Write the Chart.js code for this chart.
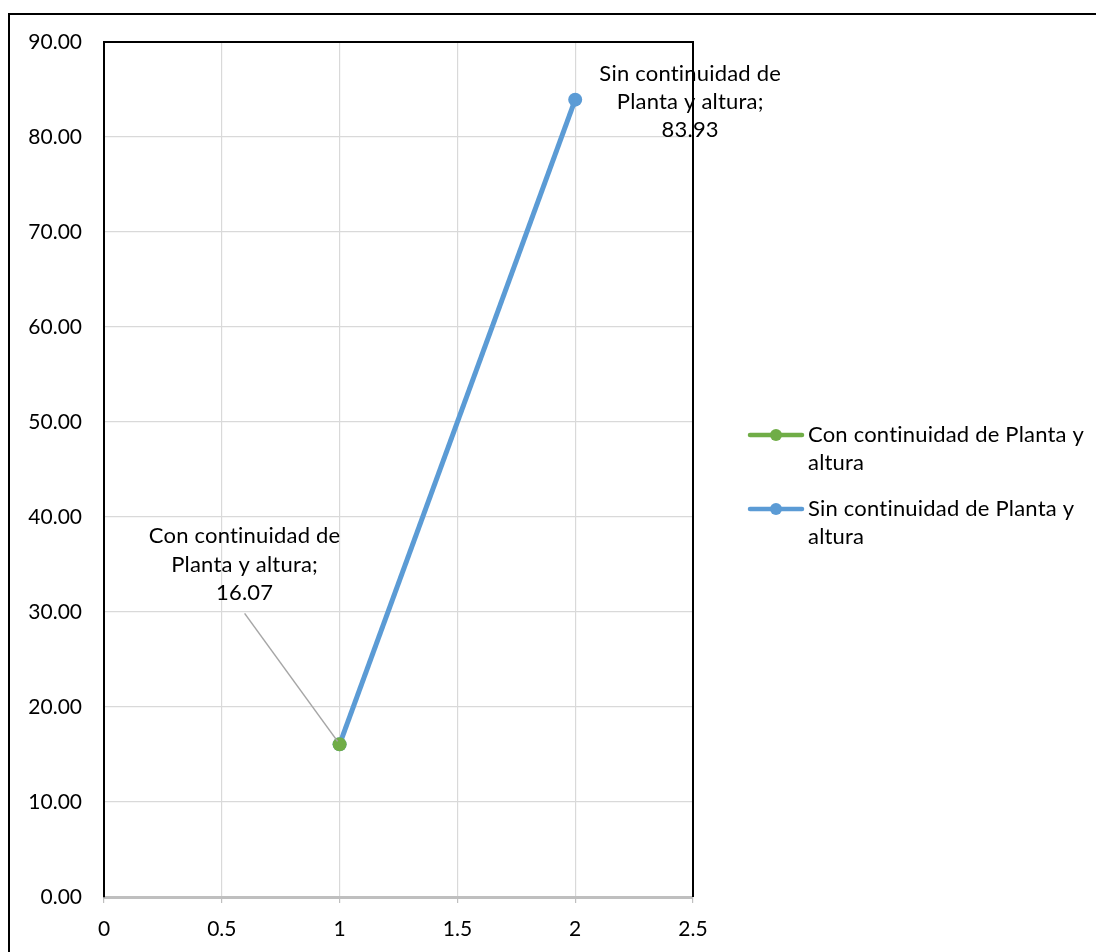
<!DOCTYPE html>
<html>
<head>
<meta charset="utf-8">
<script src="https://cdn.jsdelivr.net/npm/chart.js@4.4.1/dist/chart.umd.min.js"></script>
<style>
  html, body { margin: 0; padding: 0; background: #ffffff; }
  #wrap { width: 1096px; height: 952px; position: relative; }
</style>
</head>
<body>
<div id="wrap"><canvas id="c" width="1096" height="952"></canvas></div>
<script>
// Series names and values
const seriesNames = ['Con continuidad de Planta y altura', 'Sin continuidad de Planta y altura'];
const conX = [1];
const conY = [16.07];
const sinX = [1, 2];
const sinY = [16.07, 83.93];
const xTicks = [0, 0.5, 1, 1.5, 2, 2.5];
const yTicks = [0, 10, 20, 30, 40, 50, 60, 70, 80, 90];

const GREEN = '#70AD47';
const BLUE = '#5B9BD5';
const FONT = 'Lato, "Open Sans", sans-serif';

const toPoints = (xs, ys) => xs.map((x, i) => ({ x: x, y: ys[i] }));

// Point labels, wrapped over three lines: "name; value"
const labelLines = {
  0: ['Con continuidad de', 'Planta y altura;', conY[0].toFixed(2)],
  1: ['Sin continuidad de', 'Planta y altura;', sinY[1].toFixed(2)]
};

const decor = {
  id: 'decor',
  beforeDraw(chart) {
    const ctx = chart.ctx;
    ctx.save();
    ctx.fillStyle = '#ffffff';
    ctx.fillRect(0, 0, chart.width, chart.height);
    // outer frame
    ctx.strokeStyle = '#000000';
    ctx.lineWidth = 2;
    ctx.beginPath();
    ctx.moveTo(9, chart.height + 2);
    ctx.lineTo(9, 14);
    ctx.lineTo(chart.width + 2, 14);
    ctx.stroke();
    ctx.restore();
  },
  afterDatasetsDraw(chart) {
    const ctx = chart.ctx;
    const xs = chart.scales.x, ys = chart.scales.y;
    const a = chart.chartArea;
    ctx.save();
    ctx.font = '22px ' + FONT;
    ctx.letterSpacing = '0.2px';
    ctx.fillStyle = '#000000';
    ctx.textAlign = 'center';
    ctx.textBaseline = 'middle';

    // label for the green point with a leader line
    const gx = xs.getPixelForValue(conX[0]);
    const gy = ys.getPixelForValue(conY[0]);
    const gcx = gx - 95, gcy = gy - 208;
    labelLines[0].forEach((t, i) => ctx.fillText(t, gcx, gcy + i * 28.5));
    ctx.strokeStyle = '#a6a6a6';
    ctx.lineWidth = 1.5;
    ctx.beginPath();
    ctx.moveTo(gcx, gcy + 77);
    ctx.lineTo(gx - 2, gy - 3);
    ctx.stroke();

    // label for the blue point
    const bx = xs.getPixelForValue(sinX[1]);
    const by = ys.getPixelForValue(sinY[1]);
    const bcx = bx + 115, bcy = by - 26;
    labelLines[1].forEach((t, i) => ctx.fillText(t, bcx, bcy + i * 28));

    // plot frame: top and right edges
    ctx.strokeStyle = '#000000';
    ctx.lineWidth = 2;
    ctx.beginPath();
    ctx.moveTo(a.left, a.top);
    ctx.lineTo(a.right, a.top);
    ctx.lineTo(a.right, a.bottom);
    ctx.stroke();

    // legend
    const items = [
      { color: GREEN, lines: ['Con continuidad de Planta y', 'altura'], y: 435 },
      { color: BLUE, lines: ['Sin continuidad de Planta y', 'altura'], y: 509 }
    ];
    ctx.textAlign = 'left';
    items.forEach(it => {
      ctx.strokeStyle = it.color;
      ctx.lineWidth = 4.5;
      ctx.lineCap = 'round';
      ctx.beginPath();
      ctx.moveTo(750, it.y);
      ctx.lineTo(802, it.y);
      ctx.stroke();
      ctx.fillStyle = it.color;
      ctx.beginPath();
      ctx.arc(776, it.y, 6, 0, Math.PI * 2);
      ctx.fill();
      ctx.fillStyle = '#000000';
      it.lines.forEach((t, i) => ctx.fillText(t, 808, it.y + i * 28));
    });
    ctx.restore();
  }
};

new Chart(document.getElementById('c'), {
  type: 'scatter',
  data: {
    datasets: [
      {
        label: seriesNames[0],
        data: toPoints(conX, conY),
        showLine: false,
        backgroundColor: GREEN,
        borderColor: GREEN,
        pointRadius: 7,
        pointBorderWidth: 0,
        order: 0
      },
      {
        label: seriesNames[1],
        data: toPoints(sinX, sinY),
        showLine: true,
        borderColor: BLUE,
        backgroundColor: BLUE,
        borderWidth: 5,
        pointRadius: 7,
        pointBorderWidth: 0,
        order: 1
      }
    ]
  },
  options: {
    responsive: false,
    animation: false,
    devicePixelRatio: 1,
    layout: { padding: { top: 42, right: 403, left: 0, bottom: 0 } },
    plugins: { legend: { display: false }, tooltip: { enabled: false } },
    scales: {
      x: {
        type: 'linear',
        min: 0,
        max: 2.5,
        afterBuildTicks: s => { s.ticks = xTicks.map(v => ({ value: v })); },
        afterFit: s => { s.height = 55; },
        ticks: {
          color: '#000000',
          font: { family: FONT, size: 21 },
          padding: 14,
          maxRotation: 0,
          callback: v => String(v)
        },
        grid: { color: '#d9d9d9', lineWidth: 1.2, tickColor: '#bfbfbf', tickLength: 6, drawTicks: true },
        border: { color: '#bfbfbf', width: 3 }
      },
      y: {
        type: 'linear',
        min: 0,
        max: 90,
        afterBuildTicks: s => { s.ticks = yTicks.map(v => ({ value: v })); },
        afterFit: s => { s.width = 104; },
        ticks: {
          color: '#000000',
          font: { family: FONT, size: 21 },
          padding: 22,
          callback: v => Number(v).toFixed(2)
        },
        grid: { color: '#d9d9d9', lineWidth: 1.2, drawTicks: false },
        border: { color: '#000000', width: 2 }
      }
    }
  },
  plugins: [decor]
});
</script>
</body>
</html>
